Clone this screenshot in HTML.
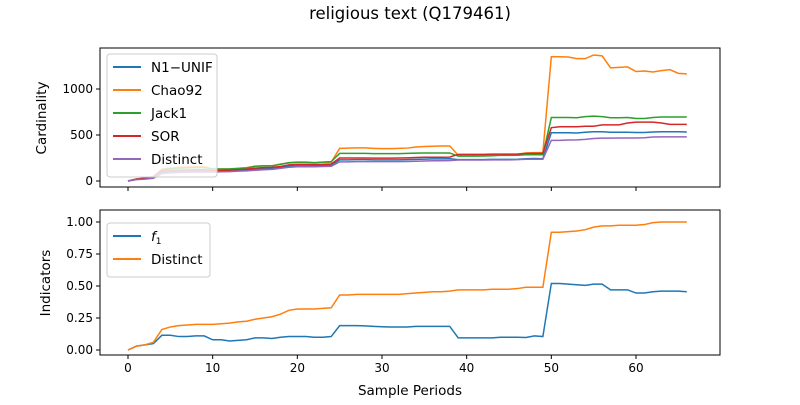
<!DOCTYPE html>
<html><head><meta charset="utf-8"><style>
body{margin:0;background:#fff;}
svg{font-family:"DejaVu Sans","Liberation Sans",sans-serif;}
</style></head><body>
<svg id="c" width="800" height="400"></svg>
<script>
const periods=[...Array(67).keys()];
const distinctFrac=[0,0.03,0.04,0.06,0.16,0.18,0.19,0.195,0.2,0.2,0.2,0.205,0.21,0.22,0.225,0.24,0.25,0.26,0.28,0.31,0.32,0.32,0.32,0.325,0.33,0.43,0.43,0.435,0.435,0.435,0.435,0.435,0.435,0.44,0.445,0.45,0.455,0.455,0.46,0.47,0.47,0.47,0.47,0.475,0.475,0.475,0.48,0.49,0.49,0.49,0.92,0.92,0.925,0.93,0.94,0.96,0.97,0.97,0.975,0.975,0.975,0.98,0.995,1,1,1,1];
const f1=[0,0.03,0.04,0.05,0.115,0.115,0.105,0.105,0.11,0.11,0.08,0.08,0.07,0.075,0.08,0.095,0.095,0.09,0.1,0.105,0.105,0.105,0.1,0.1,0.105,0.19,0.19,0.19,0.188,0.185,0.182,0.18,0.18,0.18,0.185,0.185,0.185,0.185,0.185,0.095,0.095,0.095,0.095,0.095,0.1,0.1,0.1,0.098,0.11,0.105,0.52,0.52,0.515,0.51,0.505,0.515,0.515,0.47,0.47,0.47,0.445,0.445,0.455,0.46,0.46,0.46,0.455];
const distinct=[0,15,20,30,80,88,92,95,97,97,97,100,102,107,110,117,122,127,137,150,155,155,155,158,160,208,208,210,210,210,210,210,210,212,215,218,220,220,222,228,228,228,228,230,230,230,232,237,237,237,442,442,445,447,452,462,466,466,468,468,468,470,478,480,480,480,480];
const n1=[0,18,25,35,95,100,105,108,110,110,108,110,110,115,120,128,132,135,148,160,165,165,165,168,172,230,230,232,232,230,230,230,230,232,235,238,240,240,242,232,232,232,232,235,235,235,237,242,245,242,525,525,525,522,530,535,535,530,530,530,527,527,532,535,535,535,533];
const chao=[0,20,30,45,130,140,148,152,155,158,130,130,132,138,145,160,165,165,185,195,200,200,195,200,205,355,358,360,360,355,352,352,355,358,370,375,378,380,380,280,282,282,282,288,290,290,292,305,308,310,1350,1350,1348,1330,1330,1370,1360,1230,1235,1240,1190,1195,1185,1200,1210,1170,1165];
const jack=[0,22,32,48,120,135,140,142,145,145,130,130,130,135,140,160,165,165,180,200,205,205,200,205,210,300,300,300,300,298,298,298,298,300,303,305,305,305,305,270,270,270,272,275,278,278,280,285,285,285,690,690,690,688,700,705,700,688,688,690,680,680,690,695,695,695,695];
const sor=[0,20,30,45,110,115,120,120,122,122,115,115,118,122,128,140,145,148,158,175,180,180,178,180,185,250,250,250,250,248,248,248,250,252,255,258,258,258,260,290,290,290,290,292,292,292,292,300,300,300,580,590,590,590,595,595,610,610,610,630,640,640,640,630,615,615,615];
const topTicks=[0,500,1000];
const botTicks=[0,0.25,0.5,0.75,1.0];
const xTicks=[0,10,20,30,40,50,60];
const C=['#1f77b4','#ff7f0e','#2ca02c','#d62728','#9467bd'];
const svg=document.getElementById('c');const NS='http://www.w3.org/2000/svg';
function el(t,a,p){const e=document.createElementNS(NS,t);for(const k in a)e.setAttribute(k,a[k]);(p||svg).appendChild(e);return e;}
const X0=100,X1=720;
const xs=v=>128+v*(636-128)/60;
const yT=v=>181-v*0.092;
const yB=v=>350-v*128;
function txt(s,x,y,anchor,size,name,extra){const t=el('text',Object.assign({x:x,y:y,'text-anchor':anchor,'font-size':size,fill:'#000'},extra||{}));t.textContent=s;return t;}
txt('religious text (Q179461)',410,19,'middle',16.5,'chart-title');
function axes(y0,y1,name,showXLabels){
  const r=el('rect',{x:X0,y:y0,width:X1-X0,height:y1-y0,fill:'none',stroke:'#000','stroke-width':1});
  
  xTicks.forEach(v=>{const l=el('line',{x1:xs(v),x2:xs(v),y1:y1,y2:y1+4,stroke:'#000'});
    if(showXLabels)txt(String(v),xs(v),y1+17,'middle',12,'x-tick-label');});
}
axes(48,187,'top-axes',false);axes(210,355,'bottom-axes',true);
topTicks.forEach(v=>{const l=el('line',{x1:96,x2:100,y1:yT(v),y2:yT(v),stroke:'#000'});txt(String(v),93,yT(v)+4,'end',12,'y-tick-label');});
botTicks.forEach(v=>{const l=el('line',{x1:96,x2:100,y1:yB(v),y2:yB(v),stroke:'#000'});txt(v.toFixed(2),93,yB(v)+4,'end',12,'y-tick-label');});
txt('Cardinality',46,118,'middle',13.5,'y-axis-title-top',{transform:'rotate(-90 46 118)'});
txt('Indicators',50,283,'middle',13.5,'y-axis-title-bottom',{transform:'rotate(-90 50 283)'});
txt('Sample Periods',410,395,'middle',13.5,'x-axis-title');
function line(data,ys,color,name){const p=el('polyline',{points:data.map((v,i)=>xs(periods[i])+','+ys(v)).join(' '),fill:'none',stroke:color,'stroke-width':1.5});}
line(n1,yT,C[0],'line-n1-unif');line(chao,yT,C[1],'line-chao92');line(jack,yT,C[2],'line-jack1');line(sor,yT,C[3],'line-sor');line(distinct,yT,C[4],'line-distinct');
line(f1,yB,C[0],'line-f1');line(distinctFrac,yB,C[1],'line-distinct-indicator');
function legend(x,y,w,items,name){const g=el('g',{});
  el('rect',{x:x,y:y,width:w,height:items.length*23+8,rx:3,fill:'#fff','fill-opacity':0.8,stroke:'#ccc'},g);
  items.forEach((it,i)=>{const cy=y+13+i*23;el('line',{x1:x+6,x2:x+34,y1:cy,y2:cy,stroke:it[1],'stroke-width':2},g);
    const t=el('text',{x:x+44,y:cy+5,'font-size':13.5,fill:'#000'},g);t.innerHTML=it[0];});}
legend(107,54,110,[['N1\u2212UNIF',C[0]],['Chao92',C[1]],['Jack1',C[2]],['SOR',C[3]],['Distinct',C[4]]],'legend-top');
legend(107,223,103,[['<tspan font-style="italic">f</tspan><tspan font-size="9" dy="3">1</tspan>',C[0]],['Distinct',C[1]]],'legend-bottom');
</script>
</body></html>
